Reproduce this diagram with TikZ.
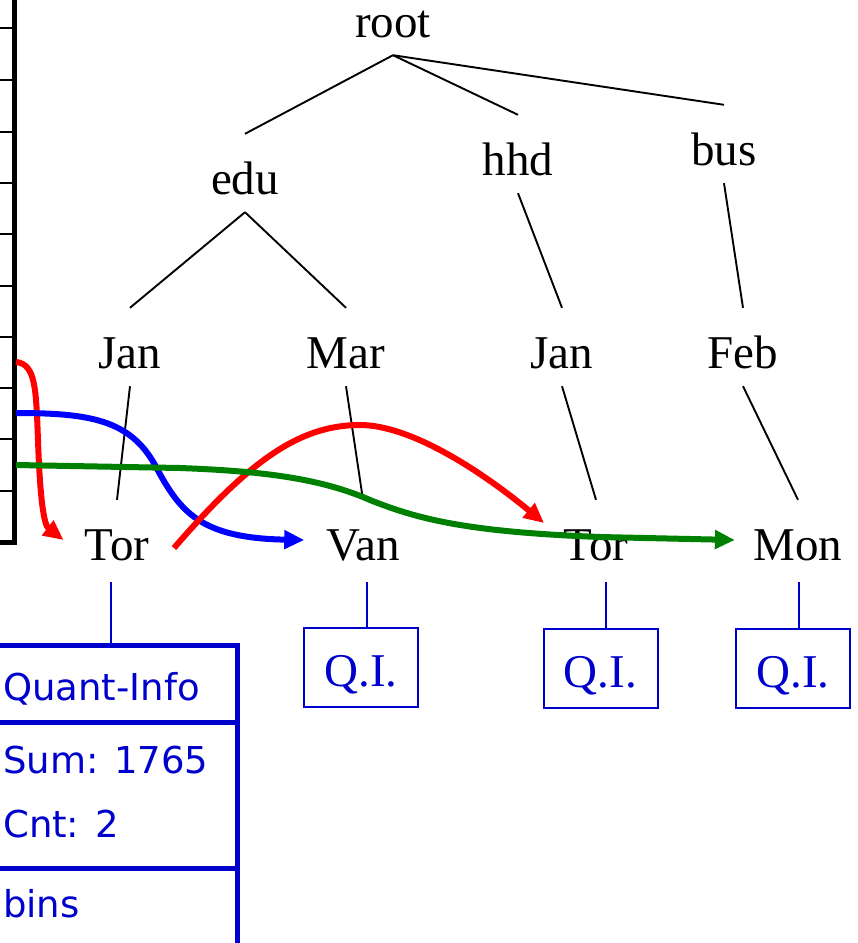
\documentclass[tikz,border=0pt]{standalone}
\usepackage{fontspec}
\setmainfont{Liberation Serif}
\newfontfamily\qifont{DejaVu Sans}
\usetikzlibrary{arrows.meta}
\definecolor{qblue}{RGB}{0,0,204}
\definecolor{cred}{RGB}{255,0,0}
\definecolor{cblue}{RGB}{0,0,255}
\definecolor{cgreen}{RGB}{0,128,0}
\begin{document}
\begin{tikzpicture}[x=1pt,y=-1pt,
 lbl/.style={font=\fontsize{47}{56}\selectfont, text height=54pt, text depth=12pt, inner xsep=0pt, inner ysep=6pt, anchor=base},
 edge/.style={line width=1.9pt},
 qline/.style={draw=qblue, line width=1.8pt},
 qibox/.style={draw=qblue, line width=2pt, text=qblue, minimum width=114pt, minimum height=79pt, inner sep=0pt, font=\fontsize{47}{56}\selectfont, text height=38pt, text depth=0pt},
 partbox/.style={draw=qblue, line width=5pt, minimum width=247pt, inner sep=0pt},
 qtext/.style={font=\qifont\fontsize{37}{45}\selectfont, text=qblue, inner sep=0pt, anchor=base west},
 flow/.style={line width=6pt, -{Triangle[length=20pt,width=18pt]}},
 tick/.style={line width=1.5pt},
]
\clip (0,0) rectangle (858,943);

% ruler on the left
\draw[line width=5pt, line join=miter] (14.5,-10) -- (14.5,542) -- (-10,542);
\foreach \yy in {28,80,132,183,234,286,337,388,439,491}
  \draw[tick] (-2,\yy) -- (13,\yy);
\coordinate (rA) at (16,362);
\coordinate (rB) at (16,413);
\coordinate (rC) at (16,465);

% tree labels
\node[lbl] (root) at (393,37) {root};
\node[lbl] (edu) at (245,194) {edu};
\node[lbl] (hhd) at (518,175) {hhd};
\node[lbl] (bus) at (724,165) {bus};
\node[lbl] (jan1) at (130,368) {Jan};
\node[lbl] (mar) at (346,368) {Mar};
\node[lbl] (jan2) at (562,368) {Jan};
\node[lbl] (feb) at (743,368) {Feb};
\node[lbl] (tor1) at (117,560) {Tor};
\node[lbl] (van) at (363,560) {Van};
\node[lbl] (tor2) at (596,560) {Tor};
\node[lbl] (mon) at (798,560) {Mon};

% tree edges
\draw[edge] (root.south) -- (edu.north);
\draw[edge] (root.south) -- (hhd.north);
\draw[edge] (root.south) -- (bus.north);
\draw[edge] (edu.south) -- (jan1.north);
\draw[edge] (edu.south) -- (mar.north);
\draw[edge] (hhd.south) -- (jan2.north);
\draw[edge] (bus.south) -- (feb.north);
\draw[edge] (jan1.south) -- (tor1.north);
\draw[edge] (mar.south) -- (van.north);
\draw[edge] (jan2.south) -- (tor2.north);
\draw[edge] (feb.south) -- (mon.north);

% Q.I. boxes
\node[qibox] (qiA) at (361,667.5) {Q.I.};
\node[qibox] (qiB) at (600.5,668) {Q.I.};
\node[qibox] (qiC) at (793,668) {Q.I.};
\draw[qline] ([xshift=6pt]qiA.north) -- ([xshift=6pt,yshift=-4pt]qiA.north |- van.south);
\draw[qline] ([xshift=5.5pt]qiB.north) -- ([xshift=5.5pt,yshift=-4pt]qiB.north |- tor2.south);
\draw[qline] ([xshift=6pt]qiC.north) -- ([xshift=6pt,yshift=-4pt]qiC.north |- mon.south);

% Quant-Info box
\node[partbox, minimum height=77pt] (qTop) at (113.5,683.5) {};
\node[partbox, minimum height=146pt] (qMid) at (113.5,795) {};
\node[partbox, minimum height=82pt] (qBot) at (113.5,909) {};
\draw[qline] ([xshift=-2.5pt]qTop.north) -- ([xshift=-2.5pt,yshift=-4pt]qTop.north |- tor1.south);
\node[qtext] (tQI) at (3,700) {Quant-Info};
\node[qtext] (tSum) at (3,773) {Sum: 1765};
\node[qtext] (tCnt) at (3,837) {Cnt: 2};
\node[qtext] (tBins) at (3,917) {bins};

% flow curves
\draw[flow, cred] (rA) .. controls (36,364) and (36,390) .. (38,440)
   .. controls (40,500) and (44,525) .. ([shift={(-21,1)}]tor1.west);
\draw[flow, cblue] (rB) .. controls (90,413) and (130,420) .. (155,465)
   .. controls (180,512) and (200,538) .. ([shift={(-22,1)}]van.west);
\draw[flow, cred] ([shift={(24.5,9)}]tor1.east) .. controls (250,460) and (300,425) .. (360,425)
   .. controls (410,425) and (480,470) .. ([shift={(-19.5,-16)}]tor2.west);
\draw[flow, cgreen] (rC) -- (180,468) .. controls (260,471) and (320,478) .. (370,500)
   .. controls (420,520) and (470,532) .. (600,537) -- ([shift={(-18.5,1)}]mon.west);
\end{tikzpicture}
\end{document}
